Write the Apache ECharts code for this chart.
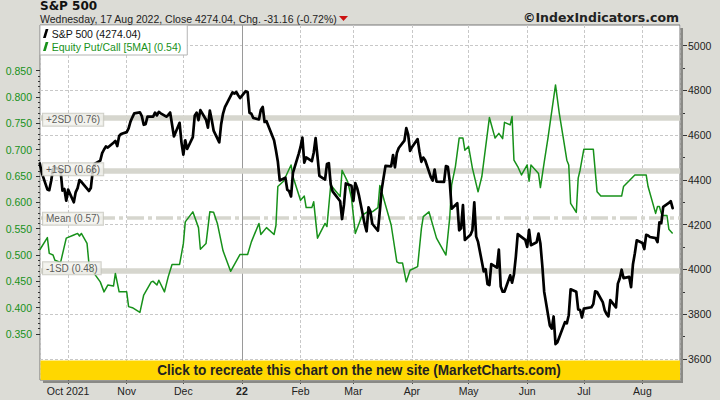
<!DOCTYPE html>
<html><head><meta charset="utf-8">
<script src="https://cdn.jsdelivr.net/npm/echarts@6/dist/echarts.min.js"></script>
<style>html,body{margin:0;padding:0;background:#dcdcd6}#c{width:720px;height:400px}</style>
</head><body><div id="c"></div><script>
// ---- data ----
const spxDates = [
'2021-09-16','2021-09-17','2021-09-20','2021-09-21','2021-09-22','2021-09-23','2021-09-24','2021-09-27','2021-09-28','2021-09-29','2021-09-30',
'2021-10-01','2021-10-04','2021-10-05','2021-10-06','2021-10-07','2021-10-08','2021-10-11','2021-10-12','2021-10-13','2021-10-14','2021-10-15','2021-10-18','2021-10-19','2021-10-20','2021-10-21','2021-10-22','2021-10-25','2021-10-26','2021-10-27','2021-10-28','2021-10-29',
'2021-11-01','2021-11-02','2021-11-03','2021-11-04','2021-11-05','2021-11-08','2021-11-09','2021-11-10','2021-11-11','2021-11-12','2021-11-15','2021-11-16','2021-11-17','2021-11-18','2021-11-19','2021-11-22','2021-11-23','2021-11-24','2021-11-26','2021-11-29','2021-11-30',
'2021-12-01','2021-12-02','2021-12-03','2021-12-06','2021-12-07','2021-12-08','2021-12-09','2021-12-10','2021-12-13','2021-12-14','2021-12-15','2021-12-16','2021-12-17','2021-12-20','2021-12-21','2021-12-22','2021-12-23','2021-12-27','2021-12-28','2021-12-29','2021-12-30','2021-12-31',
'2022-01-03','2022-01-04','2022-01-05','2022-01-06','2022-01-07','2022-01-10','2022-01-11','2022-01-12','2022-01-13','2022-01-14','2022-01-18','2022-01-19','2022-01-20','2022-01-21','2022-01-24','2022-01-25','2022-01-26','2022-01-27','2022-01-28','2022-01-31',
'2022-02-01','2022-02-02','2022-02-03','2022-02-04','2022-02-07','2022-02-08','2022-02-09','2022-02-10','2022-02-11','2022-02-14','2022-02-15','2022-02-16','2022-02-17','2022-02-18','2022-02-22','2022-02-23','2022-02-24','2022-02-25','2022-02-28',
'2022-03-01','2022-03-02','2022-03-03','2022-03-04','2022-03-07','2022-03-08','2022-03-09','2022-03-10','2022-03-11','2022-03-14','2022-03-15','2022-03-16','2022-03-17','2022-03-18','2022-03-21','2022-03-22','2022-03-23','2022-03-24','2022-03-25','2022-03-28','2022-03-29','2022-03-30','2022-03-31',
'2022-04-01','2022-04-04','2022-04-05','2022-04-06','2022-04-07','2022-04-08','2022-04-11','2022-04-12','2022-04-13','2022-04-14','2022-04-18','2022-04-19','2022-04-20','2022-04-21','2022-04-22','2022-04-25','2022-04-26','2022-04-27','2022-04-28','2022-04-29',
'2022-05-02','2022-05-03','2022-05-04','2022-05-05','2022-05-06','2022-05-09','2022-05-10','2022-05-11','2022-05-12','2022-05-13','2022-05-16','2022-05-17','2022-05-18','2022-05-19','2022-05-20','2022-05-23','2022-05-24','2022-05-25','2022-05-26','2022-05-27','2022-05-31',
'2022-06-01','2022-06-02','2022-06-03','2022-06-06','2022-06-07','2022-06-08','2022-06-09','2022-06-10','2022-06-13','2022-06-14','2022-06-15','2022-06-16','2022-06-17','2022-06-21','2022-06-22','2022-06-23','2022-06-24','2022-06-27','2022-06-28','2022-06-29','2022-06-30',
'2022-07-01','2022-07-05','2022-07-06','2022-07-07','2022-07-08','2022-07-11','2022-07-12','2022-07-13','2022-07-14','2022-07-15','2022-07-18','2022-07-19','2022-07-20','2022-07-21','2022-07-22','2022-07-25','2022-07-26','2022-07-27','2022-07-28','2022-07-29',
'2022-08-01','2022-08-02','2022-08-03','2022-08-04','2022-08-05','2022-08-08','2022-08-09','2022-08-10','2022-08-11','2022-08-12','2022-08-15','2022-08-16','2022-08-17'
];
const spxValues = [
4473.75,4432.99,4357.73,4354.19,4395.64,4448.98,4455.48,4443.11,4352.63,4359.46,4307.54,
4357.04,4300.46,4345.72,4363.55,4399.76,4391.34,4361.19,4350.65,4363.80,4438.26,4471.37,4486.46,4519.63,4536.19,4549.78,4544.90,4566.48,4574.79,4551.68,4596.42,4605.38,
4613.67,4630.65,4660.57,4680.06,4697.53,4701.70,4685.25,4646.71,4649.27,4682.85,4682.80,4700.90,4688.67,4704.54,4697.96,4682.94,4690.70,4701.46,4594.62,4655.27,4567.00,
4513.04,4577.10,4538.43,4591.67,4686.75,4701.21,4667.45,4712.02,4668.97,4634.09,4709.85,4668.67,4620.64,4568.02,4649.23,4696.56,4725.79,4791.19,4786.35,4793.06,4778.73,4766.18,
4796.56,4793.54,4700.58,4696.05,4677.03,4670.29,4713.07,4726.35,4659.03,4662.85,4577.11,4532.76,4482.73,4397.94,4410.13,4356.45,4349.93,4326.51,4431.85,4515.55,
4546.54,4589.38,4477.44,4500.53,4483.87,4521.54,4587.18,4504.08,4418.64,4401.67,4471.07,4475.01,4380.26,4348.87,4304.76,4225.50,4288.70,4384.65,4373.94,
4306.26,4386.54,4363.49,4328.87,4201.09,4170.70,4277.88,4259.52,4204.31,4173.11,4262.45,4357.86,4411.67,4463.12,4461.18,4511.61,4456.24,4520.16,4543.06,4575.52,4631.60,4602.45,4530.41,
4545.86,4582.64,4525.12,4481.15,4500.21,4488.28,4412.53,4397.45,4446.59,4392.59,4391.69,4462.21,4459.45,4393.66,4271.78,4296.12,4175.20,4183.96,4287.50,4131.93,
4155.38,4175.48,4300.17,4146.87,4123.34,3991.24,4001.05,3935.18,3930.08,4023.89,4008.01,4088.85,3923.68,3900.79,3901.36,3973.75,3941.48,3978.73,4057.84,4158.24,4132.15,
4101.23,4176.82,4108.54,4121.43,4160.68,4115.77,4017.82,3900.86,3749.63,3735.48,3789.99,3666.77,3674.84,3764.79,3759.89,3795.73,3911.74,3900.11,3821.55,3818.83,3785.38,
3825.33,3831.39,3845.08,3902.62,3899.38,3854.43,3818.80,3801.78,3790.38,3863.16,3830.85,3936.69,3959.90,3998.95,3961.63,3966.84,3921.05,4023.61,4072.43,4130.29,
4118.63,4091.19,4155.17,4151.94,4145.19,4140.06,4122.47,4210.24,4207.27,4280.15,4297.14,4305.20,4274.04
];
const pcDates = [
'2021-09-16','2021-09-20','2021-09-21','2021-09-23','2021-09-24','2021-09-27','2021-09-30','2021-10-04','2021-10-06','2021-10-07','2021-10-08','2021-10-11','2021-10-12','2021-10-14','2021-10-18','2021-10-20','2021-10-22','2021-10-25','2021-10-26','2021-10-28',
'2021-11-01','2021-11-02','2021-11-04','2021-11-08','2021-11-10','2021-11-14','2021-11-15','2021-11-17','2021-11-18','2021-11-21','2021-11-23','2021-11-25','2021-11-29',
'2021-12-01','2021-12-02','2021-12-06','2021-12-09','2021-12-10','2021-12-13','2021-12-15','2021-12-17','2021-12-19','2021-12-22','2021-12-26','2021-12-31',
'2022-01-04','2022-01-06','2022-01-10','2022-01-11','2022-01-14','2022-01-18','2022-01-19','2022-01-20','2022-01-23','2022-01-27','2022-01-28',
'2022-02-01','2022-02-03','2022-02-04','2022-02-07','2022-02-08','2022-02-10','2022-02-14','2022-02-15','2022-02-17','2022-02-22','2022-02-23','2022-02-26','2022-02-28',
'2022-03-02','2022-03-04','2022-03-05','2022-03-06','2022-03-08','2022-03-11','2022-03-14','2022-03-15','2022-03-16','2022-03-21','2022-03-24','2022-03-25','2022-03-27','2022-03-29','2022-03-31',
'2022-04-04','2022-04-06','2022-04-07','2022-04-10','2022-04-14','2022-04-19','2022-04-21','2022-04-22','2022-04-24','2022-04-26','2022-04-28','2022-04-29',
'2022-05-01','2022-05-03','2022-05-06','2022-05-08','2022-05-12','2022-05-15','2022-05-17','2022-05-19','2022-05-20','2022-05-23','2022-05-24','2022-05-25','2022-05-27','2022-05-29',
'2022-06-01','2022-06-02','2022-06-03','2022-06-05','2022-06-07','2022-06-08','2022-06-10','2022-06-12','2022-06-16','2022-06-18','2022-06-20','2022-06-22','2022-06-23','2022-06-24','2022-06-27','2022-06-28','2022-06-29',
'2022-07-01','2022-07-06','2022-07-08','2022-07-10','2022-07-21','2022-07-22','2022-07-28',
'2022-08-03','2022-08-04','2022-08-08','2022-08-09','2022-08-10','2022-08-11','2022-08-12','2022-08-14','2022-08-15','2022-08-17'
];
const pcValues = [
0.510,0.533,0.503,0.500,0.490,0.486,0.532,0.538,0.541,0.536,0.541,0.522,0.484,0.469,0.449,0.430,0.443,0.441,0.465,0.430,
0.430,0.402,0.400,0.391,0.424,0.449,0.450,0.443,0.452,0.430,0.459,0.482,0.482,
0.522,0.563,0.582,0.552,0.511,0.522,0.582,0.581,0.560,0.508,0.469,0.501,
0.501,0.525,0.560,0.539,0.552,0.539,0.556,0.630,0.640,0.671,0.649,
0.604,0.612,0.590,0.590,0.601,0.532,0.560,0.554,0.633,0.611,0.661,0.639,0.608,
0.541,0.560,0.570,0.576,0.581,0.582,0.590,0.632,0.620,0.557,0.487,0.485,0.485,0.449,0.471,
0.478,0.550,0.573,0.582,0.532,0.500,0.571,0.633,0.668,0.722,0.722,0.699,
0.706,0.665,0.620,0.649,0.761,0.722,0.731,0.721,0.752,0.747,0.763,0.680,0.668,0.652,
0.671,0.640,0.671,0.663,0.655,0.628,0.676,0.722,0.823,0.769,0.725,0.680,0.671,0.598,0.581,0.646,0.661,
0.701,0.701,0.620,0.612,0.612,0.630,0.652,
0.652,0.630,0.579,0.592,0.592,0.579,0.575,0.575,0.549,0.541
];
const bandValues = [0.757, 0.663, 0.569, 0.475];
const bandLabels = ['+2SD (0.76)', '+1SD (0.66)', 'Mean (0.57)', '-1SD (0.48)'];
const monthNames = ['Jan','Feb','Mar','Apr','May','Jun','Jul','Aug','Sep','Oct','Nov','Dec'];
const yearLine = '2022-01-01';

// ---- layout ----
const DAY = 864e5;
const X0 = new Date(2021, 9, 1).getTime();
const xMin = X0 - 14.9 * DAY;
const xMax = X0 + 323.9 * DAY;
const GREEN = '#17911a';
const FONT = 'Liberation Sans';

const spxName = 'S&P 500 (' + spxValues[spxValues.length - 1].toFixed(2) + ')';
const pcName = 'Equity Put/Call [5MA] (' + pcValues[pcValues.length - 1].toFixed(2) + ')';

const spxData = spxDates.map((d, i) => [new Date(d + 'T00:00:00').getTime(), spxValues[i]]);
const pcData = pcDates.map((d, i) => [new Date(d + 'T00:00:00').getTime(), pcValues[i]]);

const chart = echarts.init(document.getElementById('c'), null, { renderer: 'svg' });
const hiddenX = (i) => ({ gridIndex: i, type: 'time', min: xMin, max: xMax, show: false });

chart.setOption({
  animation: false,
  backgroundColor: '#dcdcd6',
  grid: [
    { left: 40, right: 40, top: 25, bottom: 20, show: true, backgroundColor: '#fff', borderColor: '#777', borderWidth: 1 },
    { left: 40, right: 40, top: 45.7, bottom: 41 },
    { left: 40, right: 40, top: 70.7, bottom: 66 }
  ],
  xAxis: [
    { gridIndex: 0, type: 'time', min: xMin, max: xMax, splitNumber: 12, minInterval: 28 * DAY, maxInterval: 31 * DAY,
      axisLine: { show: false },
      axisTick: { show: true, length: 4, lineStyle: { color: '#444' } },
      splitLine: { show: true, lineStyle: { type: [3, 2], color: '#c8c8c8' } },
      axisLabel: { margin: 5, fontSize: 10.5, fontFamily: FONT, color: '#222', showMinLabel: false, showMaxLabel: false,
        rich: { b: { fontWeight: 'bold', fontSize: 10.5, fontFamily: FONT, color: '#222' } },
        formatter: (v) => {
          const d = new Date(v);
          const m = d.getMonth();
          if (m === 0) return '{b|' + String(d.getFullYear()).slice(2) + '}';
          if (m === 9 && d.getFullYear() === 2021) return monthNames[m] + ' ' + d.getFullYear();
          return monthNames[m];
        } } },
    hiddenX(1), hiddenX(2)
  ],
  yAxis: [
    { gridIndex: 0, type: 'value', min: 0, max: 1, show: false },
    { gridIndex: 1, type: 'value', position: 'right', offset: 3, min: 3600, max: 5000, interval: 200,
      axisLine: { show: false },
      axisTick: { show: true, length: 4, lineStyle: { color: '#333' } },
      minorTick: { show: true, splitNumber: 2, length: 2, lineStyle: { color: '#333' } },
      splitLine: { show: true, lineStyle: { type: [3, 2], color: '#c8c8c8' } },
      axisLabel: { margin: 5, fontSize: 10.5, fontFamily: FONT, color: '#222', formatter: v => String(v) } },
    { gridIndex: 2, type: 'value', position: 'left', min: 0.35, max: 0.85, interval: 0.05,
      axisLine: { show: false },
      axisTick: { show: true, length: 4, lineStyle: { color: '#333' } },
      minorTick: { show: true, splitNumber: 5, length: 2, lineStyle: { color: '#333' } },
      splitLine: { show: false },
      axisLabel: { margin: 8, fontSize: 10.5, fontFamily: FONT, color: GREEN, formatter: v => v.toFixed(3) } }
  ],
  legend: {
    left: 40, top: 25, orient: 'vertical', selectedMode: false,
    data: [{ name: spxName, textStyle: { color: '#111' } }, { name: pcName, textStyle: { color: GREEN } }],
    backgroundColor: '#fff', borderColor: '#b4b4b4', borderWidth: 1,
    padding: [3, 6, 3, 3], itemGap: 2, itemWidth: 6, itemHeight: 9,
    icon: 'path://M3,0 L6,0 L3,10 L0,10 Z',
    textStyle: { fontSize: 10.5, fontFamily: FONT, padding: [0, 0, 0, -2] }, z: 20
  },
  graphic: [
    { type: 'rect', z: 40, silent: true, shape: { x: 680.5, y: 28, width: 2.5, height: 355 }, style: { fill: '#8a8a86' } },
    { type: 'rect', z: 40, silent: true, shape: { x: 43, y: 380.5, width: 640, height: 2.5 }, style: { fill: '#8a8a86' } },
    { type: 'text', left: 40, top: 0, z: 50, style: { text: 'S&P 500', font: 'bold 12px "DejaVu Sans"', lineHeight: 12, fill: '#111' } },
    { type: 'text', left: 40, top: 13, z: 50, style: { text: 'Wednesday, 17 Aug 2022, Close 4274.04, Chg. -31.16 (-0.72%)', font: '10.5px "Liberation Sans"', lineHeight: 11, fill: '#222' } },
    { type: 'polygon', z: 50, shape: { points: [[339, 16], [348, 16], [343.5, 21]] }, style: { fill: '#cc1111' } },
    { type: 'text', right: 41, top: 11, z: 50, style: { text: '\u00a9IndexIndicators.com', font: 'bold 12.5px "DejaVu Sans"', fill: '#222' } },
    { type: 'rect', z: 50, shape: { x: 40.5, y: 360.5, width: 639.5, height: 19.5 }, style: { fill: '#ffd700' } },
    { type: 'text', z: 51, x: 359, y: 370.5, scaleX: 0.97, originX: 0, originY: 0,
      style: { text: 'Click to recreate this chart on the new site (MarketCharts.com)', font: 'bold 14px "Liberation Sans"', fill: '#222', align: 'center', verticalAlign: 'middle' } }
  ],
  series: [
    { type: 'line', name: 'yearline', xAxisIndex: 0, yAxisIndex: 0, data: [], silent: true,
      markLine: { z: 1, silent: true, symbol: 'none', label: { show: false }, lineStyle: { color: '#9a9a9a', type: 'solid', width: 1 },
        data: [{ xAxis: new Date(yearLine + 'T00:00:00').getTime() }] } },
    { type: 'line', name: 'bands', xAxisIndex: 2, yAxisIndex: 2, data: [], silent: true,
      markLine: { z: 1, silent: true, symbol: 'none', label: { show: false },
        data: bandValues.map((v, i) => ({ yAxis: v, lineStyle: i === 2
          ? { color: '#d6d6ce', width: 3.5, type: [17, 4, 4, 4] }
          : { color: '#d6d6ce', width: 5.5, type: 'solid' } })) } },
    { type: 'line', name: pcName, xAxisIndex: 2, yAxisIndex: 2, data: pcData, z: 3,
      symbol: 'none', showSymbol: false, lineStyle: { color: GREEN, width: 1.5, join: 'round' }, itemStyle: { color: GREEN } },
    { type: 'line', name: spxName, xAxisIndex: 1, yAxisIndex: 1, data: spxData, z: 4,
      symbol: 'none', showSymbol: false, lineStyle: { color: '#000', width: 2.7, join: 'round', cap: 'round' }, itemStyle: { color: '#000' } },
    { type: 'scatter', name: 'bandlabels', xAxisIndex: 2, yAxisIndex: 2, z: 10, silent: true, symbolSize: 0,
      data: bandValues.map((v, i) => ({ value: [xMin, v], label: { formatter: bandLabels[i] } })),
      label: { show: true, position: 'right', distance: 3, fontSize: 10, fontFamily: FONT, color: '#333',
        backgroundColor: '#f1f1ec', borderColor: '#c4c4bc', borderWidth: 1, padding: [1, 3, 1, 3] } }
  ]
});
</script></body></html>
